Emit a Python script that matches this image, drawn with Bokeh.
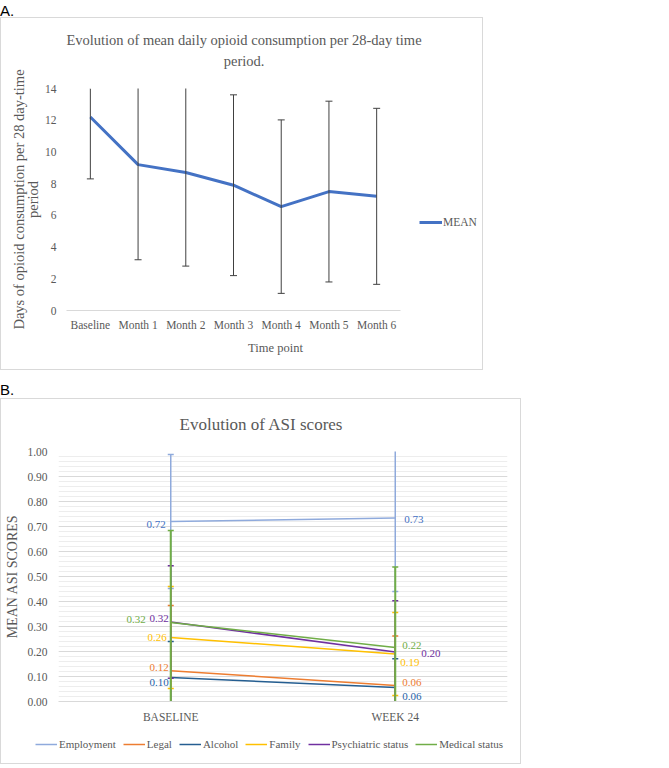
from bokeh.embed import file_html
from bokeh.layouts import column
from bokeh.models import (ColumnDataSource, Div, FixedTicker, LinearAxis,
                          NumeralTickFormatter, Range1d, Legend, LegendItem, Title)
from bokeh.plotting import figure
from bokeh.resources import INLINE

SERIF = "Liberation Serif"
GREY = "#595959"

# --- panel A: opioid consumption ---
TIMEPOINTS = ["Baseline", "Month 1", "Month 2", "Month 3", "Month 4", "Month 5", "Month 6"]
OPIOID_MEAN = [12.2, 9.2, 8.7, 7.9, 6.55, 7.5, 7.2]
OPIOID_SD = [3.9, 6.0, 5.9, 5.7, 5.47, 5.7, 5.55]

# --- panel B: ASI scores ---
ASI_VISITS = ["BASELINE", "WEEK 24"]
ASI_DOMAINS = ["Employment", "Legal", "Alcohol", "Family", "Psychiatric status", "Medical status"]
ASI_BASELINE = [0.72, 0.123, 0.096, 0.256, 0.318, 0.316]
ASI_WEEK24 = [0.734, 0.064, 0.056, 0.19, 0.198, 0.216]
ASI_SD_BASELINE = [0.268, 0.261, 0.144, 0.204, 0.225, 0.368]
ASI_SD_WEEK24 = [0.294, 0.198, 0.115, 0.166, 0.205, 0.322]

LINE_COLORS = ["#8FAADC", "#ED7D31", "#255E91", "#FFC000", "#7030A0", "#70AD47"]
LABEL_COLORS = ["#4472C4", "#ED7D31", "#1F64A8", "#FFC000", "#7030A0", "#70AD47"]
# pixel nudges for the data labels (screen units, + is right / down)
BASE_DX = [-5, -2, -2, -4, -2, -25]
BASE_DY = [2.5, -3.5, 5, 0, -3.5, -3.5]
W24_DX = [9, 7, 7, 5, 26, 7]
W24_DY = [1, -3, 9, 8, 1, -2.5]

BOX = {"border": "1px solid #d9d9d9"}
TEXT_EM = {"Evolution of mean daily opioid consumption per 28-day time": 24.5,
           "period.": 2.8, "Evolution of ASI scores": 9.64}


def style_axes(p, tick_size="11.5px"):
    xax, yax = p.below[0], p.left[0]
    for ax in (xax, yax):
        ax.major_label_text_font = SERIF
        ax.major_label_text_font_size = tick_size
        ax.major_label_text_color = GREY
        ax.axis_label_text_font = SERIF
        ax.axis_label_text_font_style = "normal"
        ax.axis_label_text_color = GREY
        ax.major_tick_line_color = None
        ax.minor_tick_line_color = None
        ax.major_tick_out = 0
        ax.major_tick_in = 0
    yax.axis_line_color = None
    xax.axis_line_color = "#D9D9D9"
    p.outline_line_color = None
    return xax, yax


def add_title(p, text, size, center, standoff):
    # left aligned + offset, so the text centre lands where the original has it
    p.add_layout(Title(text=text, align="left", offset=center - TEXT_EM[text] * size / 2,
                       text_font=SERIF, text_font_style="normal", text_color=GREY,
                       text_font_size=f"{size}px", standoff=standoff), "above")


def add_gap(p, px):
    # blank axis (one white tick, empty label) that only keeps room under the title
    p.add_layout(LinearAxis(ticker=FixedTicker(ticks=[0]), major_tick_out=px,
                            major_tick_in=0, axis_line_color=None,
                            major_tick_line_color="white", minor_tick_line_color=None,
                            major_label_overrides={0: ""}, major_label_standoff=0,
                            major_label_text_font_size="1px"), "above")


# ---------------- Panel A ----------------
xa = list(range(len(TIMEPOINTS)))
pa = figure(x_range=Range1d(-0.5, 8.26), y_range=Range1d(0, 14),
            width=483, height=353, output_backend="svg", toolbar_location=None,
            min_border_left=65, min_border_right=0, min_border_top=70,
            min_border_bottom=61, styles=BOX, frame_align=False, title=None)
ax_x, ax_y = style_axes(pa)
pa.grid.grid_line_color = None
ax_x.ticker = FixedTicker(ticks=xa)
ax_x.major_label_overrides = dict(zip(xa, TIMEPOINTS))
ax_x.bounds = (-0.5, len(TIMEPOINTS) - 0.5)
ax_x.axis_label = "Time point"
ax_x.axis_label_text_font_size = "12.5px"
ax_x.major_label_standoff = 8
ax_x.axis_label_standoff = 7
ax_y.ticker = FixedTicker(ticks=list(range(0, 15, 2)))
ax_y.major_label_standoff = 10
ax_y.axis_label = "Days of opioid consumption per 28 day-time\nperiod"
ax_y.axis_label_text_font_size = "14.5px"
ax_y.axis_label_text_line_height = 0.85
ax_y.axis_label_standoff = 1
add_gap(pa, 19)
add_title(pa, "period.", 14.5, 177.5, 1)
add_title(pa, "Evolution of mean daily opioid consumption per 28-day time", 14.5, 177.5, 5)

lo = [m - s for m, s in zip(OPIOID_MEAN, OPIOID_SD)]
hi = [m + s for m, s in zip(OPIOID_MEAN, OPIOID_SD)]
mean_line = pa.line(xa, OPIOID_MEAN, line_color="#4472C4", line_width=3)
pa.segment(x0=xa, y0=lo, x1=xa, y1=hi, line_color="#404040", line_width=1)
pa.scatter(x=xa + xa, y=lo + hi, marker="dash", size=7, line_color="#404040", line_width=1)

leg_a = Legend(items=[LegendItem(label="MEAN", renderers=[mean_line])],
               location=(353, 78), padding=0, margin=0, spacing=0,
               glyph_width=23, glyph_height=20, label_standoff=1,
               border_line_color=None, background_fill_alpha=0,
               label_text_font=SERIF, label_text_font_size="11.5px",
               label_text_color=GREY)
pa.add_layout(leg_a, "center")

# ---------------- Panel B ----------------
xb = list(range(len(ASI_VISITS)))
pb = figure(x_range=Range1d(-0.5, len(ASI_VISITS) - 0.5), y_range=Range1d(0, 1),
            width=519, height=327, output_backend="svg", toolbar_location=None,
            min_border_left=57, min_border_right=13, min_border_top=52,
            min_border_bottom=25, frame_align=False, title=None)
bx_x, bx_y = style_axes(pb)
pb.xgrid.grid_line_color = None
bx_x.ticker = FixedTicker(ticks=xb)
bx_x.major_label_overrides = dict(zip(xb, ASI_VISITS))
bx_x.major_label_standoff = 9
bx_y.ticker = FixedTicker(ticks=[i / 10 for i in range(11)],
                          minor_ticks=[i / 50 for i in range(51)])
bx_y.formatter = NumeralTickFormatter(format="0.00")
bx_y.major_label_standoff = 7
bx_y.axis_label = "MEAN ASI SCORES"
bx_y.axis_label_text_font_size = "14px"
bx_y.axis_label_standoff = 4
pb.ygrid.grid_line_color = "#D9D9D9"
pb.ygrid.grid_line_width = 1.2
pb.ygrid.minor_grid_line_color = "#EDEDED"
add_gap(pb, 16)
add_title(pb, "Evolution of ASI scores", 17, 203, 4)

for i, name in enumerate(ASI_DOMAINS):
    pb.line(xb, [ASI_BASELINE[i], ASI_WEEK24[i]], line_color=LINE_COLORS[i], line_width=1.5)

for i, name in enumerate(ASI_DOMAINS):
    col = LINE_COLORS[i]
    means = [ASI_BASELINE[i], ASI_WEEK24[i]]
    sds = [ASI_SD_BASELINE[i], ASI_SD_WEEK24[i]]
    lo = [m - s for m, s in zip(means, sds)]
    hi = [m + s for m, s in zip(means, sds)]
    w = 2 if name == "Medical status" else 1.5
    pb.segment(x0=xb, y0=lo, x1=xb, y1=hi, line_color=col, line_width=w)
    pb.scatter(x=xb + xb, y=lo + hi, marker="dash", size=6, line_color=col, line_width=1.5)

n = len(ASI_DOMAINS)
base_src = ColumnDataSource(dict(
    x=[xb[0]] * n, y=ASI_BASELINE, t=[f"{v:.2f}" for v in ASI_BASELINE],
    c=LABEL_COLORS, dx=BASE_DX, dy=BASE_DY))
w24_src = ColumnDataSource(dict(
    x=[xb[1]] * n, y=ASI_WEEK24, t=[f"{v:.2f}" for v in ASI_WEEK24],
    c=LABEL_COLORS, dx=W24_DX, dy=W24_DY))
for src, align in ((base_src, "right"), (w24_src, "left")):
    pb.text(x="x", y="y", text="t", source=src, text_color="c", x_offset="dx",
            y_offset="dy", text_align=align, text_baseline="middle",
            text_font={"value": SERIF}, text_font_size="11px")

# legend strip under panel B: own small canvas so the legend can span the full box
# width; the series are repeated there but sit outside its visible y range
leg_fig = figure(width=519, height=37, x_range=Range1d(-0.5, 1.5), y_range=Range1d(5, 6),
                 output_backend="svg", toolbar_location=None, min_border=0,
                 x_axis_type=None, y_axis_type=None, frame_align=False)
leg_fig.grid.grid_line_color = None
leg_fig.outline_line_color = None
items = []
for i, name in enumerate(ASI_DOMAINS):
    r = leg_fig.line(xb, [ASI_BASELINE[i], ASI_WEEK24[i]], line_color=LINE_COLORS[i],
                     line_width=1.5)
    items.append(LegendItem(label=name, renderers=[r]))
leg_b = Legend(items=items, orientation="horizontal", location=(34, 12),
               padding=0, margin=0, spacing=7, glyph_width=22, glyph_height=14,
               label_standoff=2, border_line_color=None, background_fill_alpha=0,
               label_text_font=SERIF, label_text_font_size="11px",
               label_text_color=GREY)
leg_fig.add_layout(leg_b, "center")

label_style = {"font-family": "Liberation Sans", "font-size": "15px", "color": "#000"}
div_a = Div(text='<div style="margin-top:2px;line-height:15px">A.</div>', height=17,
            width=40, margin=0, styles=label_style)
div_b = Div(text='<div style="margin-top:12px;line-height:15px">B.</div>', height=28,
            width=40, margin=0, styles=label_style)

box_b = column(pb, leg_fig, spacing=0, styles=BOX)
layout = column(div_a, pa, div_b, box_b)
open("out.html", "w").write(file_html(layout, INLINE))
